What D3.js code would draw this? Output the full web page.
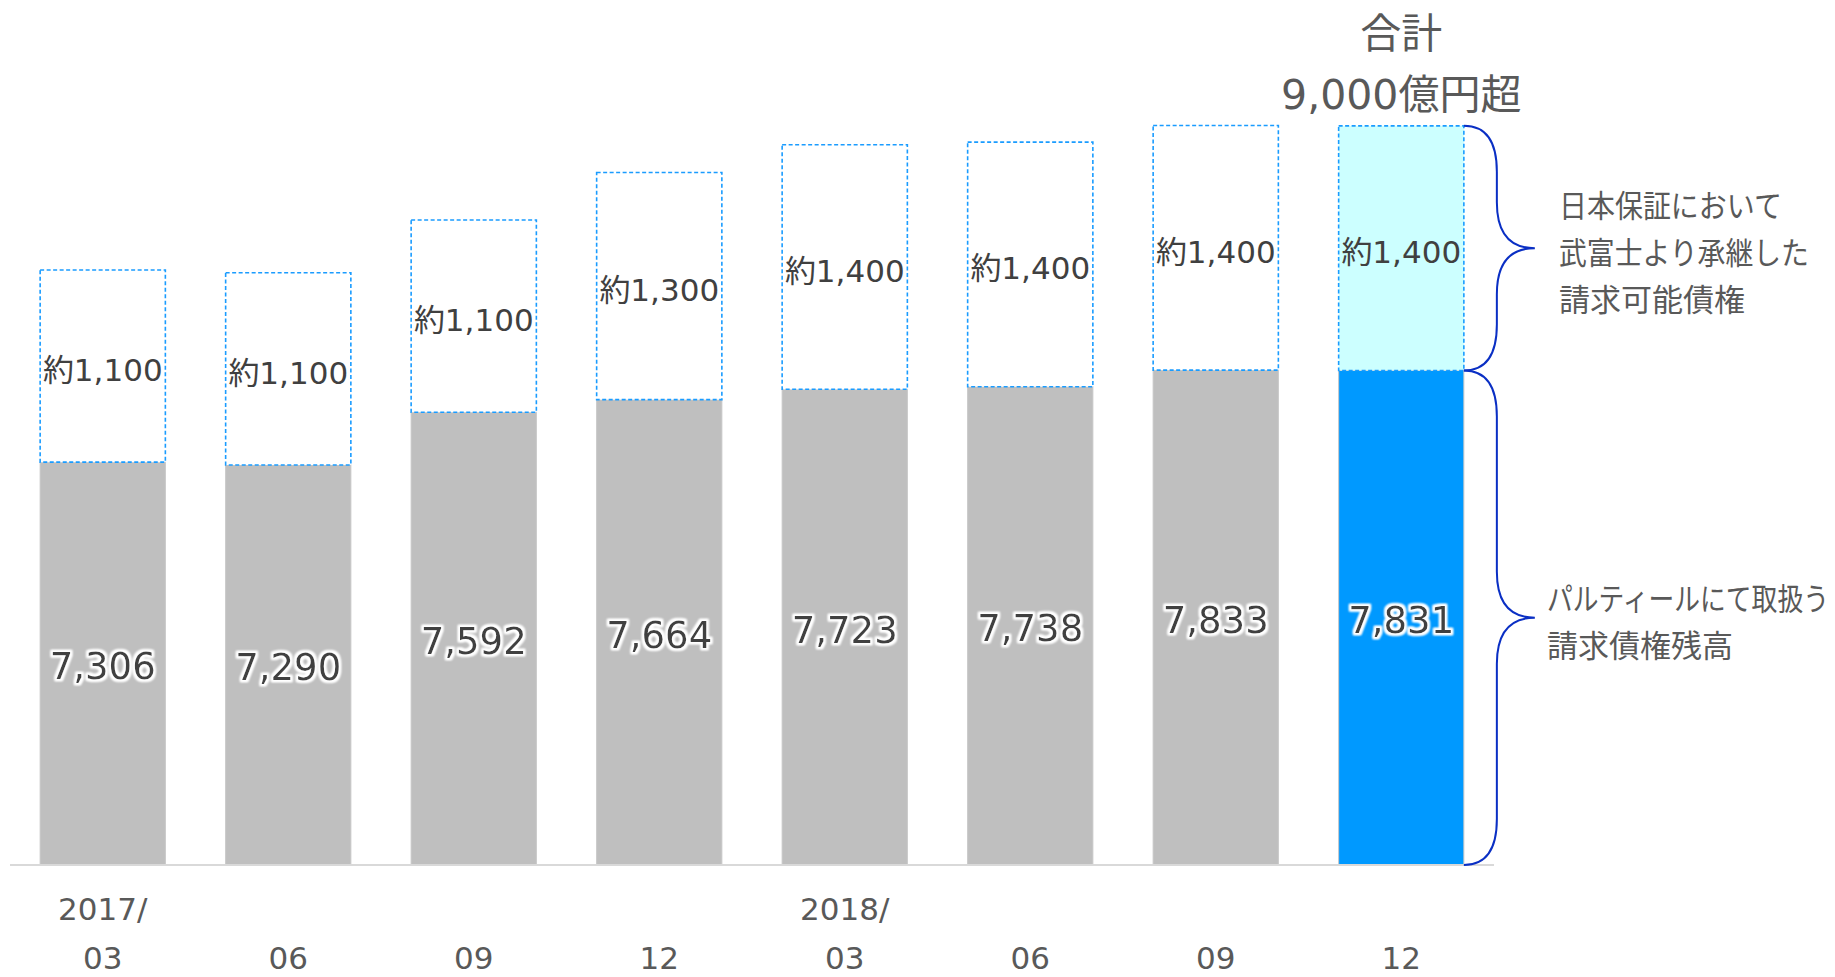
<!DOCTYPE html>
<html>
<head>
<meta charset="utf-8">
<script src="https://cdn.jsdelivr.net/npm/d3@7"></script>
<style>
  body { margin: 0; background: #fff; }
  svg text { font-family: "DejaVu Sans", "Noto Sans CJK JP", sans-serif; }
</style>
</head>
<body>
<div id="chart"></div>
<script>
// data (億円)
var periods = ["2017/03", "2017/06", "2017/09", "2017/12", "2018/03", "2018/06", "2018/09", "2018/12"];
var yearLabels = ["2017/", "", "", "", "2018/", "", "", ""];
var monthLabels = ["03", "06", "09", "12", "03", "06", "09", "12"];
var balance = [7306, 7290, 7592, 7664, 7723, 7738, 7833, 7831];
var inherited = [1100, 1100, 1100, 1300, 1400, 1400, 1400, 1400];
var totalLabel = ["合計", "9,000億円超"];
var upperNote = ["日本保証において", "武富士より承継した", "請求可能債権"];
var lowerNote = ["パルティールにて取扱う", "請求債権残高"];

function draw_chart() {
    var width = 1835;
    var height = 977;

    var svg = d3.select("#chart").append("svg")
        .attr("width", width)
        .attr("height", height)
        .style("background-color", "white");

    // white halo behind the big numbers
    var f = svg.append("defs").append("filter").attr("id", "glow")
        .attr("x", "-10%").attr("y", "-20%").attr("width", "120%").attr("height", "140%");
    f.append("feMorphology").attr("in", "SourceAlpha").attr("operator", "dilate").attr("radius", 2).attr("result", "d");
    f.append("feGaussianBlur").attr("in", "d").attr("stdDeviation", 1.3).attr("result", "b");
    f.append("feFlood").attr("flood-color", "#ffffff").attr("result", "w");
    f.append("feComposite").attr("in", "w").attr("in2", "b").attr("operator", "in").attr("result", "halo");
    var m = f.append("feMerge");
    m.append("feMergeNode").attr("in", "halo");
    m.append("feMergeNode").attr("in", "halo");
    m.append("feMergeNode").attr("in", "SourceGraphic");

    var x = d3.scaleBand()
        .domain(periods)
        .range([10, 1494])
        .paddingInner(0.325)
        .paddingOuter(0.1625);

    // axis does not start at zero in the original slide
    var y = d3.scaleLinear()
        .domain([5000, 9300])
        .range([865, 113.8]);

    var last = periods.length - 1;

    // base bars
    svg.selectAll("rect.base")
        .data(periods)
        .enter()
        .append("rect")
            .attr("class", "base")
            .attr("x", function(d) { return x(d); })
            .attr("width", x.bandwidth())
            .attr("y", function(d, i) { return y(balance[i]); })
            .attr("height", function(d, i) { return y(5000) - y(balance[i]); })
            .attr("fill", function(d, i) { return i === last ? "#0099ff" : "#bfbfbf"; })
            .attr("stroke", "#c8c8c8")
            .attr("stroke-width", 1);

    // dashed upper boxes
    svg.selectAll("rect.top")
        .data(periods)
        .enter()
        .append("rect")
            .attr("class", "top")
            .attr("x", function(d) { return x(d); })
            .attr("width", x.bandwidth())
            .attr("y", function(d, i) { return y(balance[i] + inherited[i]); })
            .attr("height", function(d, i) { return y(balance[i]) - y(balance[i] + inherited[i]); })
            .attr("fill", function(d, i) { return i === last ? "#ccffff" : "#ffffff"; })
            .attr("stroke", "#1a9cff")
            .attr("stroke-width", 1.6)
            .attr("stroke-dasharray", "4,2.5");

    // baseline
    svg.append("line")
        .attr("x1", x.range()[0])
        .attr("x2", x.range()[1])
        .attr("y1", y(5000))
        .attr("y2", y(5000))
        .attr("stroke", "#d9d9d9")
        .attr("stroke-width", 2);

    // labels in the dashed boxes
    svg.selectAll("text.top")
        .data(periods)
        .enter()
        .append("text")
            .attr("x", function(d) { return x(d) + x.bandwidth() / 2; })
            .attr("y", function(d, i) { return (y(balance[i]) + y(balance[i] + inherited[i])) / 2 + 4; })
            .attr("text-anchor", "middle")
            .attr("dominant-baseline", "central")
            .attr("font-size", 31)
            .attr("fill", "#404040")
            .text(function(d, i) { return "約" + d3.format(",")(inherited[i]); });

    // labels in the base bars
    svg.selectAll("text.base")
        .data(periods)
        .enter()
        .append("text")
            .attr("x", function(d) { return x(d) + x.bandwidth() / 2; })
            .attr("y", function(d, i) { return (y(5000) + y(balance[i])) / 2 + 3; })
            .attr("text-anchor", "middle")
            .attr("dominant-baseline", "central")
            .attr("font-size", 37)
            .attr("fill", "#404040")
            .attr("filter", "url(#glow)")
            .text(function(d, i) { return d3.format(",")(balance[i]); });

    // category labels
    svg.selectAll("text.year")
        .data(periods)
        .enter()
        .append("text")
            .attr("x", function(d) { return x(d) + x.bandwidth() / 2; })
            .attr("y", 909)
            .attr("text-anchor", "middle")
            .attr("dominant-baseline", "central")
            .attr("font-size", 31)
            .attr("fill", "#595959")
            .text(function(d, i) { return yearLabels[i]; });
    svg.selectAll("text.month")
        .data(periods)
        .enter()
        .append("text")
            .attr("x", function(d) { return x(d) + x.bandwidth() / 2; })
            .attr("y", 958)
            .attr("text-anchor", "middle")
            .attr("dominant-baseline", "central")
            .attr("font-size", 31)
            .attr("fill", "#595959")
            .text(function(d, i) { return monthLabels[i]; });

    // total label over the last bar
    var cx = x(periods[last]) + x.bandwidth() / 2;
    svg.selectAll("text.total")
        .data(totalLabel)
        .enter()
        .append("text")
            .attr("x", cx)
            .attr("y", function(d, i) { return 34 + i * 61; })
            .attr("text-anchor", "middle")
            .attr("dominant-baseline", "central")
            .attr("font-size", 41)
            .attr("fill", "#595959")
            .text(function(d) { return d; });

    // braces
    var x0 = x(periods[last]) + x.bandwidth();
    function brace(yTop, yBot, r) {
        var xm = x0 + 33, xt = x0 + 71, ym = (yTop + yBot) / 2;
        return "M" + x0 + "," + yTop +
            "Q" + xm + "," + yTop + " " + xm + "," + (yTop + r) +
            "L" + xm + "," + (ym - r) +
            "Q" + xm + "," + ym + " " + xt + "," + ym +
            "Q" + xm + "," + ym + " " + xm + "," + (ym + r) +
            "L" + xm + "," + (yBot - r) +
            "Q" + xm + "," + yBot + " " + x0 + "," + yBot;
    }
    var topY = y(balance[last] + inherited[last]);
    var midY = y(balance[last]);
    var botY = y(5000);
    svg.append("path")
        .attr("d", brace(topY, midY, 46))
        .attr("fill", "none")
        .attr("stroke", "#0a2fc4")
        .attr("stroke-width", 2);
    svg.append("path")
        .attr("d", brace(midY, botY, 46))
        .attr("fill", "none")
        .attr("stroke", "#0a2fc4")
        .attr("stroke-width", 2);

    // brace notes: the slide font has proportional kana, so squeeze each line to its width
    function note(lines, widths, left, firstY, step) {
        svg.selectAll(null)
            .data(lines)
            .enter()
            .append("text")
                .attr("dominant-baseline", "central")
                .attr("font-size", 31)
                .attr("fill", "#595959")
                .text(function(d) { return d; })
                .attr("transform", function(d, i) {
                    var w = this.getComputedTextLength();
                    var k = Math.min(1, widths[i] / w);
                    return "translate(" + left + "," + (firstY + i * step) + ") scale(" + k + ",1)";
                });
    }
    note(upperNote, [223, 250, 190], 1559, (topY + midY) / 2 - 42, 47);
    note(lowerNote, [282, 190], 1547, (midY + botY) / 2 - 18, 46);
}

draw_chart();
</script>
</body>
</html>
